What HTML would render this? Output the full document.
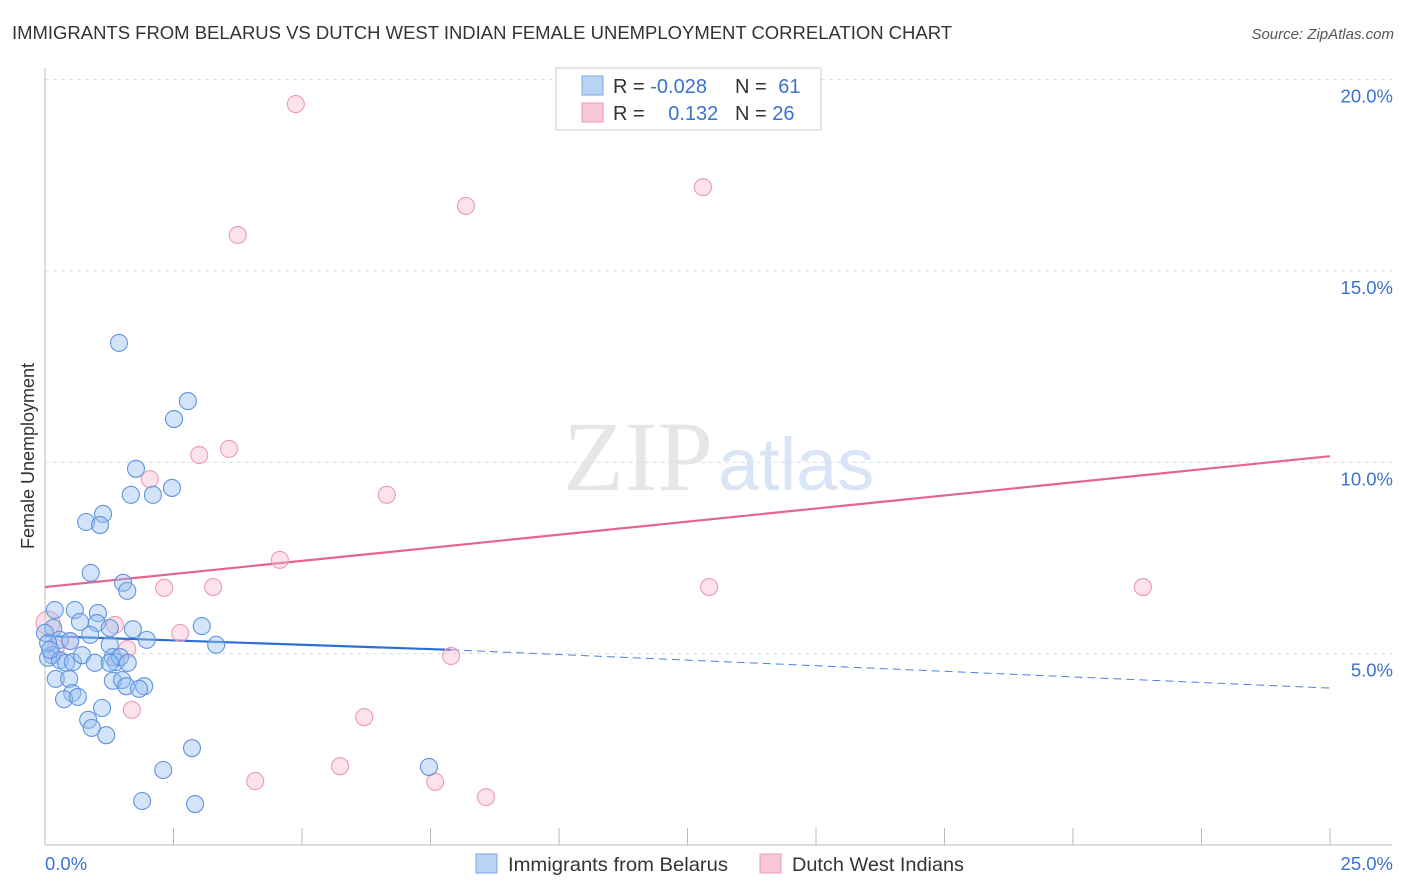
<!DOCTYPE html>
<html><head><meta charset="utf-8"><style>
body{margin:0;background:#fff;font-family:"Liberation Sans",sans-serif;}
svg{display:block}
</style></head><body>
<svg id="chart" width="1406" height="892" xmlns="http://www.w3.org/2000/svg">
<text x="12" y="39" font-size="18" fill="#333" textLength="940" lengthAdjust="spacingAndGlyphs">IMMIGRANTS FROM BELARUS VS DUTCH WEST INDIAN FEMALE UNEMPLOYMENT CORRELATION CHART</text>
<text x="1394" y="39" font-size="15" fill="#555" font-style="italic" text-anchor="end">Source: ZipAtlas.com</text>
<text x="713" y="490" font-size="100" fill="#e6e6e6" text-anchor="end" font-family="Liberation Serif,serif">ZIP</text>
<text x="718" y="490" font-size="74" fill="#d9e5f6">atlas</text>
<text transform="translate(34,456) rotate(-90)" font-size="18" fill="#333" text-anchor="middle">Female Unemployment</text>
<g id="grid"></g><g id="axes"></g><g id="trend"></g><g id="pts"></g>
<g>
<rect x="556" y="68" width="265" height="62" fill="#fff" stroke="#ccc"/>
<rect x="582" y="76" width="21" height="19" fill="#b9d3f5" stroke="#7aa6e6"/>
<rect x="582" y="103" width="21" height="19" fill="#f9c8d6" stroke="#ec9ab2"/>
<text x="613" y="93" font-size="20" fill="#333">R = <tspan fill="#3a72d0">-0.028</tspan></text>
<text x="735" y="93" font-size="20" fill="#333">N = <tspan fill="#3a72d0" dx="6">61</tspan></text>
<text x="613" y="120" font-size="20" fill="#333">R = <tspan fill="#3a72d0" dx="18">0.132</tspan></text>
<text x="735" y="120" font-size="20" fill="#333">N = <tspan fill="#3a72d0">26</tspan></text>
</g>
<g>
<rect x="476" y="854" width="21" height="19" fill="#b9d3f5" stroke="#7aa6e6"/>
<text x="508" y="871" font-size="19.5" fill="#333" textLength="220" lengthAdjust="spacingAndGlyphs">Immigrants from Belarus</text>
<rect x="760" y="854" width="21" height="19" fill="#f9c8d6" stroke="#ec9ab2"/>
<text x="792" y="871" font-size="19.5" fill="#333" textLength="172" lengthAdjust="spacingAndGlyphs">Dutch West Indians</text>
</g>
</svg>
<script>
const yTicks=[5,10,15,20];
const yTickLabels=["5.0%","10.0%","15.0%","20.0%"];
const xTickVals=[0,2.5,5,7.5,10,12.5,15,17.5,20,22.5,25];
const blueX=[1.44,2.78,2.51,1.77,1.67,2.10,2.47,1.13,0.80,1.07,0.89,1.52,1.60,0.19,0.58,1.03,0.68,1.01,0.16,1.26,1.71,3.05,0.88,1.98,3.33,0,0.29,0.49,1.26,0.14,0.06,0.29,0.41,0.54,0.72,0.97,1.32,1.38,1.46,1.61,1.26,0.21,0.47,1.32,1.50,1.58,1.93,1.83,0.53,0.37,0.64,1.11,0.84,0.91,1.19,2.86,2.30,7.47,1.89,2.92,0.06,0.10];
const blueY=[13.12,11.60,11.13,9.83,9.15,9.15,9.33,8.65,8.44,8.36,7.11,6.85,6.64,6.14,6.14,6.06,5.83,5.80,5.67,5.67,5.64,5.72,5.49,5.36,5.23,5.54,5.36,5.33,5.23,4.96,4.89,4.83,4.76,4.78,4.96,4.76,4.91,4.78,4.91,4.76,4.76,4.34,4.34,4.29,4.31,4.15,4.15,4.08,3.97,3.81,3.87,3.58,3.27,3.06,2.87,2.53,1.96,2.04,1.15,1.07,5.28,5.10];
const pinkX=[4.88,12.80,8.19,3.75,3.58,3.00,2.04,6.65,4.57,2.32,3.27,12.92,21.36,1.36,2.63,1.60,7.90,0.06,0.49,1.69,6.21,5.74,4.09,7.59,8.58,0.21];
const pinkY=[19.36,17.19,16.70,15.94,10.35,10.19,9.56,9.15,7.45,6.72,6.74,6.74,6.74,5.75,5.54,5.12,4.94,5.80,5.33,3.53,3.34,2.06,1.67,1.65,1.25,5.15];
const blueTrend=[5.46,5.10,4.10];
const blueTrendX=[0,7.9,25];
const pinkTrend=[6.74,10.16];
const pinkTrendX=[0,25];
const NS="http://www.w3.org/2000/svg";
const sx=v=>45+v*51.4, sy=v=>845-v*38.27;
function mk(tag,attrs,parent){const e=document.createElementNS(NS,tag);for(const k in attrs)e.setAttribute(k,attrs[k]);document.getElementById(parent).appendChild(e);return e;}
yTicks.forEach((t,i)=>{
 const l=mk('line',{x1:45,x2:1392,y1:sy(t),y2:sy(t),stroke:'#ddd','stroke-dasharray':'4,4'},'grid');
 
 
 const tx=mk('text',{x:1393,y:sy(t)+23,'font-size':18.5,fill:'#3a72d0','text-anchor':'end'},'grid');
 tx.textContent=yTickLabels[i];
 
 
});
let a=mk('line',{x1:45,x2:45,y1:68,y2:845,stroke:'#bbb'},'axes');


a=mk('line',{x1:45,x2:1392,y1:845,y2:845,stroke:'#bbb'},'axes');


xTickVals.forEach(t=>{
 const l=mk('line',{x1:sx(t),x2:sx(t),y1:828,y2:845,stroke:'#bbb'},'axes');
 
 
});
let t=mk('text',{x:45,y:870,'font-size':18.5,fill:'#3a72d0'},'axes');t.textContent='0.0%';


t=mk('text',{x:1393,y:870,'font-size':18.5,fill:'#3a72d0','text-anchor':'end'},'axes');t.textContent='25.0%';


pinkX.forEach((x,i)=>{
 const c=mk('circle',{cx:sx(x),cy:sy(pinkY[i]),r:i==17?12:8.5,fill:'rgba(246,180,200,0.38)',stroke:'#ec9ab2','stroke-width':1.1},'pts');
 
 
});
blueX.forEach((x,i)=>{
 const c=mk('circle',{cx:sx(x),cy:sy(blueY[i]),r:8.5,fill:'rgba(150,190,240,0.42)',stroke:'#6094e0','stroke-width':1.1},'pts');
 
 
});
let tl=mk('line',{x1:sx(blueTrendX[0]),y1:sy(blueTrend[0]),x2:sx(blueTrendX[1]),y2:sy(blueTrend[1]),stroke:'#2b6fd6','stroke-width':2.2},'trend');


tl=mk('line',{x1:sx(blueTrendX[1]),y1:sy(blueTrend[1]),x2:sx(blueTrendX[2]),y2:sy(blueTrend[2]),stroke:'#4a82dc','stroke-width':1,'stroke-dasharray':'8,5'},'trend');


tl=mk('line',{x1:sx(pinkTrendX[0]),y1:sy(pinkTrend[0]),x2:sx(pinkTrendX[1]),y2:sy(pinkTrend[1]),stroke:'#e66590','stroke-width':2.2},'trend');


</script>
</body></html>
